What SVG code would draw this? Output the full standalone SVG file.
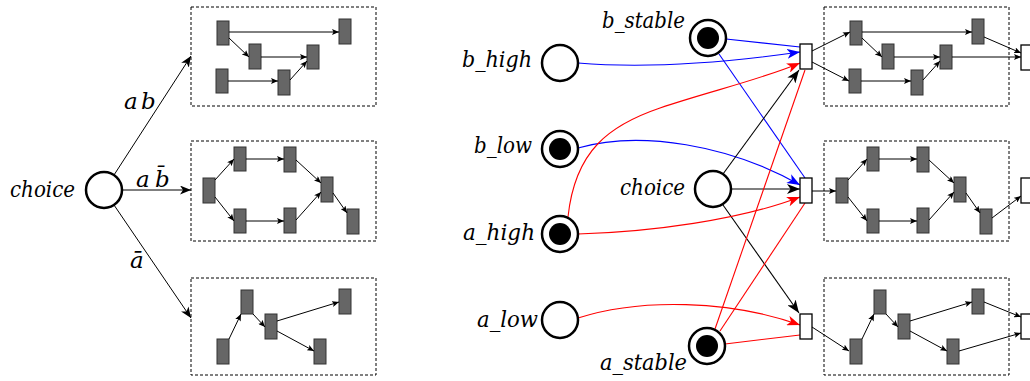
<svg xmlns="http://www.w3.org/2000/svg" width="1030" height="381" viewBox="0 0 1030 381">
<defs>
<style>
.lbl{font-family:"DejaVu Serif","Liberation Serif",serif;font-style:italic;font-size:23px;fill:#000}
.box{fill:none;stroke:#000;stroke-width:1;stroke-dasharray:3,2}
.blk{fill:#666;stroke:#333;stroke-width:1}
.tr{fill:#fff;stroke:#000;stroke-width:1.3}
.pl{fill:#fff;stroke:#000;stroke-width:2.5}
.tok{fill:#000}
.e{fill:none;stroke:#000;stroke-width:1;marker-end:url(#sm)}
.c{fill:none;stroke:#000;stroke-width:1;marker-end:url(#md)}
.ak{fill:none;stroke:#000;stroke-width:1.1;marker-end:url(#bk)}
.ab{fill:none;stroke:#00f;stroke-width:1.1;marker-end:url(#bb)}
.ar{fill:none;stroke:#f00;stroke-width:1.1;marker-end:url(#br)}
.lb{fill:none;stroke:#00f;stroke-width:1.1}
.lr{fill:none;stroke:#f00;stroke-width:1.1}
</style>
<marker id="sm" markerUnits="userSpaceOnUse" markerWidth="8" markerHeight="6" refX="7" refY="3" orient="auto"><path d="M0,0 L7,3 L0,6 L1.5,3 z" fill="#000"/></marker>
<marker id="md" markerUnits="userSpaceOnUse" markerWidth="12" markerHeight="9" refX="11" refY="4.5" orient="auto"><path d="M0,0 L11,4.5 L0,9 L3,4.5 z" fill="#000"/></marker>
<marker id="bk" markerUnits="userSpaceOnUse" markerWidth="14" markerHeight="10" refX="13" refY="5" orient="auto"><path d="M0,0 L13,5 L0,10 L3.5,5 z" fill="#000"/></marker>
<marker id="bb" markerUnits="userSpaceOnUse" markerWidth="14" markerHeight="10" refX="13" refY="5" orient="auto"><path d="M0,0 L13,5 L0,10 L3.5,5 z" fill="#00f"/></marker>
<marker id="br" markerUnits="userSpaceOnUse" markerWidth="14" markerHeight="10" refX="13" refY="5" orient="auto"><path d="M0,0 L13,5 L0,10 L3.5,5 z" fill="#f00"/></marker>
</defs>
<rect width="1030" height="381" fill="#fff"/>

<!-- LEFT PART -->
<g id="left-choice">
<circle class="pl" cx="104" cy="190" r="18"/>
<text class="lbl" x="10" y="197" textLength="65" lengthAdjust="spacingAndGlyphs">choice</text>
</g>
<g id="left-connectors">
<path class="c" d="M114,175 L191,56"/>
<path class="c" d="M122,190 L191,190"/>
<path class="c" d="M114,205 L191,318"/>
<text class="lbl" y="109"><tspan x="124">a</tspan><tspan x="141">b</tspan></text>
<text class="lbl" y="187"><tspan x="136">a</tspan><tspan x="155">b&#x0304;</tspan></text>
<text class="lbl" x="130" y="268">&#x0101;</text>
</g>

<g id="left-box1">
<rect class="box" x="191" y="7" width="185" height="99"/>
<rect class="blk" x="217" y="21" width="12" height="24"/>
<rect class="blk" x="339" y="19" width="12" height="25"/>
<rect class="blk" x="249" y="44" width="12" height="25"/>
<rect class="blk" x="307" y="45" width="12" height="24"/>
<rect class="blk" x="216" y="69" width="12" height="24"/>
<rect class="blk" x="278" y="70" width="12" height="25"/>
<path class="e" d="M229,32 L339,32"/>
<path class="e" d="M229,38 L249,57"/>
<path class="e" d="M261,57 L307,57"/>
<path class="e" d="M228,81 L278,81"/>
<path class="e" d="M290,80 L307,61"/>
</g>

<g id="left-box2">
<rect class="box" x="191" y="141" width="185" height="100"/>
<rect class="blk" x="203" y="178" width="12" height="25"/>
<rect class="blk" x="234" y="147" width="12" height="24"/>
<rect class="blk" x="284" y="147" width="12" height="25"/>
<rect class="blk" x="321" y="177" width="12" height="25"/>
<rect class="blk" x="234" y="209" width="12" height="24"/>
<rect class="blk" x="284" y="208" width="12" height="25"/>
<rect class="blk" x="347" y="209" width="12" height="25"/>
<path class="e" d="M215,180 L234,159"/>
<path class="e" d="M246,159 L284,159"/>
<path class="e" d="M296,160 L321,183"/>
<path class="e" d="M215,197 L234,221"/>
<path class="e" d="M246,221 L284,221"/>
<path class="e" d="M296,220 L321,192"/>
<path class="e" d="M333,193 L347,213"/>
</g>

<g id="left-box3">
<rect class="box" x="191" y="278" width="185" height="97"/>
<rect class="blk" x="217" y="339" width="12" height="25"/>
<rect class="blk" x="241" y="290" width="12" height="24"/>
<rect class="blk" x="265" y="314" width="12" height="25"/>
<rect class="blk" x="339" y="289" width="12" height="25"/>
<rect class="blk" x="314" y="339" width="12" height="25"/>
<path class="e" d="M229,339 L241,314"/>
<path class="e" d="M253,314 L265,327"/>
<path class="e" d="M277,321 L339,302"/>
<path class="e" d="M277,331 L314,351"/>
</g>

<!-- RIGHT PART: connectors -->
<g id="connectors">
<path class="lb" d="M726,39 L800,47"/>
<path class="ab" d="M578,63 C650,69 730,62 800,52"/>
<path class="lb" d="M719,54 L805,178"/>
<path class="ab" d="M578,148 C640,130 730,145 800,185"/>
<path class="ar" d="M568,217 C575,150 610,125 660,108 S760,80 800,63"/>
<path class="ak" d="M723,174 L799,70"/>
<path class="ak" d="M731,189 L800,189"/>
<path class="ak" d="M723,205 L799,313"/>
<path class="ar" d="M578,234 C650,232 740,220 800,197"/>
<path class="lr" d="M715,329 L805,70"/>
<path class="lr" d="M720,331 L805,203"/>
<path class="lr" d="M725,344 L800,335"/>
<path class="ar" d="M578,318 C640,298 730,300 800,325"/>
</g>

<g id="b_stable"><circle class="pl" cx="708" cy="38" r="18"/><circle class="tok" cx="708" cy="38" r="11"/>
<text class="lbl" x="685" y="28" text-anchor="end" textLength="83" lengthAdjust="spacingAndGlyphs">b_stable</text></g>
<g id="b_high"><circle class="pl" cx="560" cy="63" r="18"/>
<text class="lbl" x="532" y="67" text-anchor="end" textLength="70" lengthAdjust="spacingAndGlyphs">b_high</text></g>
<g id="b_low"><circle class="pl" cx="560" cy="149" r="18"/><circle class="tok" cx="560" cy="149" r="11"/>
<text class="lbl" x="532" y="153" text-anchor="end" textLength="58" lengthAdjust="spacingAndGlyphs">b_low</text></g>
<g id="choice"><circle class="pl" cx="713" cy="189" r="18"/>
<text class="lbl" x="685" y="195" text-anchor="end" textLength="65" lengthAdjust="spacingAndGlyphs">choice</text></g>
<g id="a_high"><circle class="pl" cx="560" cy="234" r="18"/><circle class="tok" cx="560" cy="234" r="11"/>
<text class="lbl" x="535" y="240" text-anchor="end" textLength="72" lengthAdjust="spacingAndGlyphs">a_high</text></g>
<g id="a_low"><circle class="pl" cx="560" cy="320" r="18"/>
<text class="lbl" x="538" y="327" text-anchor="end" textLength="61" lengthAdjust="spacingAndGlyphs">a_low</text></g>
<g id="a_stable"><circle class="pl" cx="707" cy="346" r="18"/><circle class="tok" cx="707" cy="346" r="11"/>
<text class="lbl" x="687" y="370" text-anchor="end" textLength="87" lengthAdjust="spacingAndGlyphs">a_stable</text></g>

<g id="t1"><rect class="tr" x="800" y="44" width="12" height="25"/></g>
<g id="t2"><rect class="tr" x="800" y="178" width="12" height="25"/></g>
<g id="t3"><rect class="tr" x="800" y="314" width="12" height="25"/></g>

<g id="right-box1" transform="translate(633,0)">
<rect class="box" x="191" y="7" width="185" height="99"/>
<rect class="blk" x="217" y="21" width="12" height="24"/>
<rect class="blk" x="339" y="19" width="12" height="25"/>
<rect class="blk" x="249" y="44" width="12" height="25"/>
<rect class="blk" x="307" y="45" width="12" height="24"/>
<rect class="blk" x="216" y="69" width="12" height="24"/>
<rect class="blk" x="278" y="70" width="12" height="25"/>
<path class="e" d="M179,51 L217,32"/>
<path class="e" d="M179,62 L216,81"/>
<path class="e" d="M229,32 L339,32"/>
<path class="e" d="M229,38 L249,57"/>
<path class="e" d="M261,57 L307,57"/>
<path class="e" d="M228,81 L278,81"/>
<path class="e" d="M290,80 L307,61"/>
<path class="e" d="M351,37 L388,53"/>
<path class="e" d="M319,57 L388,57"/>
<rect class="tr" x="388" y="45" width="12" height="25"/>
</g>

<g id="right-box2" transform="translate(633,0)">
<rect class="box" x="191" y="141" width="185" height="100"/>
<rect class="blk" x="203" y="178" width="12" height="25"/>
<rect class="blk" x="234" y="147" width="12" height="24"/>
<rect class="blk" x="284" y="147" width="12" height="25"/>
<rect class="blk" x="321" y="177" width="12" height="25"/>
<rect class="blk" x="234" y="209" width="12" height="24"/>
<rect class="blk" x="284" y="208" width="12" height="25"/>
<rect class="blk" x="347" y="209" width="12" height="25"/>
<path class="e" d="M179,191 L203,191"/>
<path class="e" d="M215,180 L234,159"/>
<path class="e" d="M246,159 L284,159"/>
<path class="e" d="M296,160 L321,183"/>
<path class="e" d="M215,197 L234,221"/>
<path class="e" d="M246,221 L284,221"/>
<path class="e" d="M296,220 L321,192"/>
<path class="e" d="M333,193 L347,213"/>
<path class="e" d="M359,218 L388,196"/>
<rect class="tr" x="388" y="178" width="12" height="25"/>
</g>

<g id="right-box3" transform="translate(633,0)">
<rect class="box" x="191" y="278" width="185" height="97"/>
<rect class="blk" x="217" y="339" width="12" height="25"/>
<rect class="blk" x="241" y="290" width="12" height="24"/>
<rect class="blk" x="265" y="314" width="12" height="25"/>
<rect class="blk" x="339" y="289" width="12" height="25"/>
<rect class="blk" x="314" y="339" width="12" height="25"/>
<path class="e" d="M179,327 L216,351"/>
<path class="e" d="M229,339 L241,314"/>
<path class="e" d="M253,314 L265,327"/>
<path class="e" d="M277,321 L339,302"/>
<path class="e" d="M277,331 L314,351"/>
<path class="e" d="M351,302 L388,317"/>
<path class="e" d="M326,351 L388,333"/>
<rect class="tr" x="388" y="314" width="12" height="25"/>
</g>
</svg>
